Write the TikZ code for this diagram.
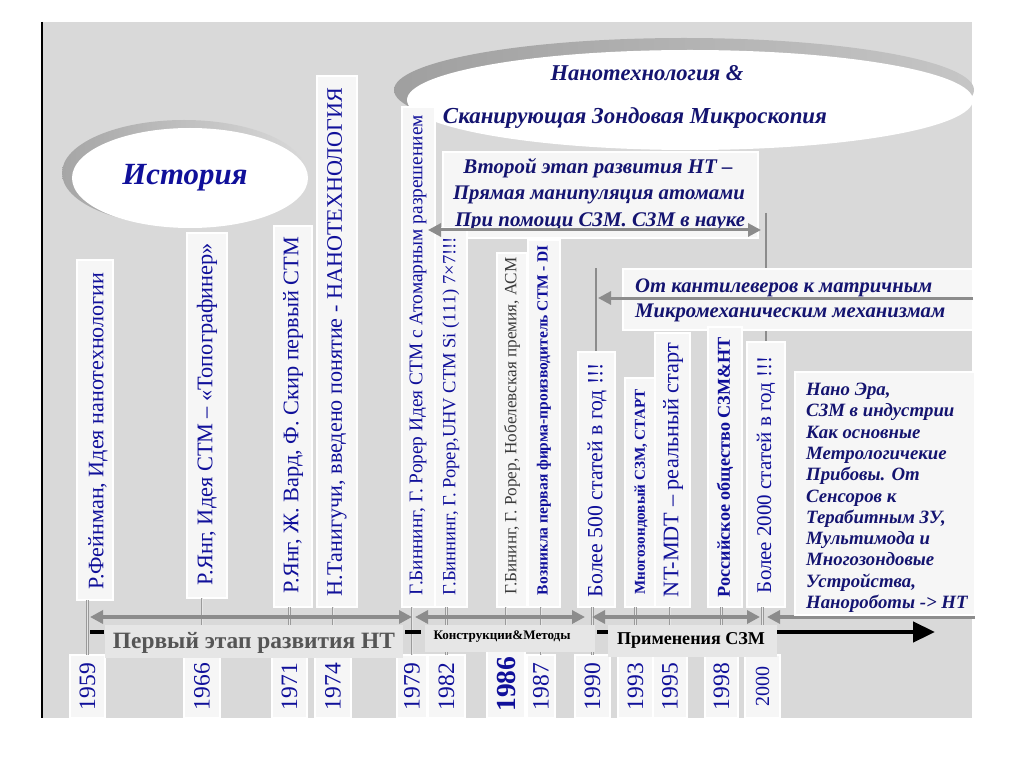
\documentclass[tikz,border=0pt]{standalone}
\usepackage{fontspec}
\setmainfont{Liberation Serif}
\usepackage{graphicx}
\usetikzlibrary{arrows.meta}
\definecolor{panel}{HTML}{D9D9D9}
\definecolor{boxedge}{HTML}{9A9A9A}
\definecolor{boxfill}{HTML}{F6F6F6}
\definecolor{tblue}{HTML}{10109A}
\definecolor{navy}{HTML}{141470}
\definecolor{arrgray}{HTML}{8C8C8C}
\definecolor{lblfill}{HTML}{E6E6E6}
\definecolor{lbltext}{HTML}{555555}
\definecolor{darktxt}{HTML}{3C3C3C}
\newcommand\fitw[2]{\resizebox{#1pt}{!}{#2}}
\begin{document}
\begin{tikzpicture}[x=1pt,y=-1pt,
  lbox/.style={draw=boxedge, line width=0.6pt, double=white, double distance=1.2pt, fill=boxfill, inner sep=0pt, outer sep=0pt},
  vtxt/.style={rotate=90, text=tblue, inner sep=0pt, font=\fontsize{20}{24}\selectfont},
  ybox/.style={lbox, minimum height=63pt},
  ytxt/.style={rotate=90, text=tblue, inner sep=0pt, font=\fontsize{20}{24}\selectfont},
  stem/.style={draw=boxedge, line width=0.6pt, double=white!80!gray, double distance=1pt},
  vline/.style={draw=arrgray, line width=1.6pt},
  tip/.style={-{Triangle[length=13pt,width=13pt]}},
  tl/.style={draw=arrgray, line width=3.5pt, {Triangle[length=13pt,width=13pt]}-{Triangle[length=13pt,width=13pt]}},
  blk/.style={draw=black, line width=4.5pt},
  lbl/.style={fill=lblfill, inner sep=0pt, outer sep=0pt},
  fancy/.style={text=navy, inner sep=0pt, font=\fontsize{20}{24}\selectfont\bfseries\itshape},
  nline/.style={text=navy, inner sep=0pt, anchor=base west, font=\fontsize{18.8}{21}\selectfont\bfseries\itshape},
]
\useasboundingbox (0,0) rectangle (1024,767);
\fill[white] (0,0) rectangle (1024,767);
\fill[panel] (42,22) rectangle (972,718);
\draw[black, line width=1.5pt] (42,22) -- (42,718);

% ellipses
\shade[left color=gray!75, right color=gray!45] (684,90) ellipse [x radius=290pt, y radius=52pt];
\fill[white] (690,100) ellipse [x radius=283pt, y radius=50pt];
\node[fancy] (title1) at (647,73) {\fitw{193}{Нанотехнология \&}};
\node[fancy] (title2) at (635,118) {\fitw{384}{Сканирующая Зондовая Микроскопия}};

\shade[left color=gray!70, right color=gray!30] (184,173) ellipse [x radius=122pt, y radius=53pt];
\fill[white] (190,178) ellipse [x radius=118pt, y radius=50pt];
\node[fancy, text=tblue] (hist) at (185,178) {\fitw{125}{История}};

% boxes behind bars
\node[lbox, minimum width=315pt, minimum height=86pt] (second) at (600.5,195) {};
\node[fancy] (s1) at (598,168) {\fitw{269}{Второй этап развития НТ –}};
\node[fancy] (s2) at (599,195) {\fitw{292}{Прямая манипуляция атомами}};
\node[fancy] (s3) at (600,222) {\fitw{290}{При помощи СЗМ. СЗМ в науке}};
\coordinate (c00top) at (766,213);
\coordinate (c90top) at (596,268);
\draw[vline] (c00top) -- (766,342);
\draw[vline] (c90top) -- (596,352);
\node[lbox, minimum width=350pt, minimum height=61pt] (cant) at (798,299.5) {};
\node[fancy, anchor=west] (k1) at (635,288) {\fitw{297}{От кантилеверов к матричным}};
\node[fancy, anchor=west] (k2) at (635,313) {\fitw{310}{Микромеханическим механизмам}};

% bars
\node[lbox, minimum width=36pt, minimum height=340pt] (b59) at (95,430) {};
\node[lbox, minimum width=40pt, minimum height=365pt] (b66) at (207,415.5) {};
\node[lbox, minimum width=38pt, minimum height=381pt] (b71) at (293,416.5) {};
\node[lbox, minimum width=40pt, minimum height=531pt] (b74) at (337,341.5) {};
\node[lbox, minimum width=33pt, minimum height=500pt] (b79) at (418.5,357) {};
\node[lbox, minimum width=32pt, minimum height=379pt] (b82) at (451,417.5) {};
\node[lbox, minimum width=30pt, minimum height=354pt] (b86) at (512,430) {};
\node[lbox, minimum width=32pt, minimum height=367pt] (b87) at (544,423.5) {};
\node[lbox, minimum width=37pt, minimum height=255pt] (b90) at (596.5,479.5) {};
\node[lbox, minimum width=32pt, minimum height=229pt] (b93) at (641,492.5) {};
\node[lbox, minimum width=35pt, minimum height=274pt] (b95) at (672.5,470) {};
\node[lbox, minimum width=34pt, minimum height=280pt] (b98) at (725,467) {};
\node[lbox, minimum width=38pt, minimum height=265pt] (b00) at (766,474.5) {};

\node[vtxt] (t59) at (98,431) {\fitw{317}{Р.Фейнман, Идея нанотехнологии}};
\node[vtxt] (t66) at (207,414) {\fitw{342}{Р.Янг, Идея СТМ – «Топографинер»}};
\node[vtxt] (t71) at (293,415) {\fitw{356}{Р.Янг, Ж. Вард, Ф. Скир первый СТМ}};
\node[vtxt] (t74) at (337,342) {\fitw{509}{Н.Танигучи, введено понятие - НАНОТЕХНОЛОГИЯ}};
\node[vtxt] (t79) at (418,355) {\fitw{480}{Г.Биннинг, Г. Рорер Идея СТМ с Атомарным разрешением}};
\node[vtxt] (t82) at (451,416) {\fitw{358}{Г.Биннинг, Г. Рорер,UHV СТМ Si (111) 7×7!!!}};
\node[vtxt, text=darktxt] (t86) at (512,426) {\fitw{337}{Г.Бининг, Г. Рорер, Нобелевская премия, АСМ}};
\node[vtxt] (t87) at (544,420) {\fitw{350}{\bfseries Возникла первая фирма-производитель СТМ - DI}};
\node[vtxt] (t90) at (597,480) {\fitw{234}{Более 500 статей в год !!!}};
\node[vtxt] (t93) at (641,492) {\fitw{205}{\bfseries Многозондовый СЗМ, СТАРТ}};
\node[vtxt] (t95) at (673,470) {\fitw{254}{NT-MDT – реальный старт}};
\node[vtxt] (t98) at (725,467) {\fitw{260}{\bfseries Российское общество СЗМ\&НТ}};
\node[vtxt] (t00) at (766,475) {\fitw{236}{Более 2000 статей в год !!!}};

% year boxes
\node[ybox, minimum width=35pt] (y59) at (87.5,686.5) {};
\node[ybox, minimum width=36pt] (y66) at (202,686.5) {};
\node[ybox, minimum width=35pt] (y71) at (289.5,686.5) {};
\node[ybox, minimum width=36pt] (y74) at (333,686.5) {};
\node[ybox, minimum width=30pt] (y79) at (412,686.5) {};
\node[ybox, minimum width=37pt] (y82) at (446.5,686.5) {};
\node[ybox, minimum width=38pt, minimum height=68pt] (y86) at (506,684) {};
\node[ybox, minimum width=28pt] (y87) at (541,686.5) {};
\node[ybox, minimum width=35pt] (y90) at (592.5,686.5) {};
\node[ybox, minimum width=35pt] (y93) at (635.5,686.5) {};
\node[ybox, minimum width=34pt] (y95) at (670,686.5) {};
\node[ybox, minimum width=33pt] (y98) at (721.5,686.5) {};
\node[ybox, minimum width=35pt] (y00) at (762.5,686.5) {};

% stems
\foreach \n in {59,66,71,74,79,82,86,87,90,93,95,98,00}
  \draw[stem] (y\n.north) -- (y\n.north |- b\n.south);

% timeline
\coordinate (a1l) at (90,617);  \coordinate (a1r) at (412,617);
\coordinate (a2l) at (415,617); \coordinate (a2r) at (585,617);
\coordinate (a3l) at (592,617); \coordinate (a3r) at (760,617);
\coordinate (a4l) at (767,617); \coordinate (a4r) at (975,617);
\draw[tl] (a1l) -- (a1r);
\draw[tl] (a2l) -- (a2r);
\draw[tl] (a3l) -- (a3r);
\draw[draw=arrgray, line width=3.5pt, {Triangle[length=13pt,width=13pt]}-] (a4l) -- (a4r);

\coordinate (d1l) at (90,632);  \coordinate (d1r) at (104,632);
\coordinate (d2l) at (405,632); \coordinate (d2r) at (421,632);
\coordinate (d3l) at (597,632); \coordinate (d3r) at (609,632);
\coordinate (bkl) at (777,632); \coordinate (bkr) at (935,632);
\draw[blk] (d1l) -- (d1r);
\draw[blk] (d2l) -- (d2r);
\draw[blk] (d3l) -- (d3r);
\draw[blk, -{Triangle[length=22pt,width=20pt]}] (bkl) -- (bkr);

\node[lbl, minimum width=298pt, minimum height=33pt] (p1) at (254,641.5) {};
\node[text=lbltext, inner sep=0pt, font=\bfseries] (p1t) at (254,643) {\fitw{282}{Первый этап развития НТ}};
\node[lbl, minimum width=170pt, minimum height=27pt] (p2) at (510,638.5) {};
\node[text=black, inner sep=0pt, font=\bfseries] (p2t) at (502,637) {\fitw{137}{Конструкции\&Методы}};
\node[lbl, minimum width=169pt, minimum height=32pt] (p3) at (692.5,641) {};
\node[text=black, inner sep=0pt, font=\bfseries] (p3t) at (691,640) {\fitw{148}{Применения СЗМ}};

% year texts
\node[ytxt] (n59) at (y59) {\fitw{47}{1959}};
\node[ytxt] (n66) at (y66) {\fitw{47}{1966}};
\node[ytxt] (n71) at (y71) {\fitw{47}{1971}};
\node[ytxt] (n74) at (y74) {\fitw{47}{1974}};
\node[ytxt] (n79) at (y79) {\fitw{47}{1979}};
\node[ytxt] (n82) at (y82) {\fitw{47}{1982}};
\node[ytxt] (n86) at (y86) {\fitw{55}{\bfseries 1986}};
\node[ytxt] (n87) at (y87) {\fitw{47}{1987}};
\node[ytxt] (n90) at (y90) {\fitw{47}{1990}};
\node[ytxt] (n93) at (y93) {\fitw{47}{1993}};
\node[ytxt] (n95) at (y95) {\fitw{47}{1995}};
\node[ytxt] (n98) at (y98) {\fitw{47}{1998}};
\node[ytxt] (n00) at (y00) {\fitw{40}{2000}};

% arrows over boxes
\coordinate (s2l) at (428,230); \coordinate (s2r) at (761,230);
\draw[tl, line width=3pt] (s2l) -- (s2r);
\coordinate (k0r) at (973,298); \coordinate (k0l) at (598,298);
\draw[draw=arrgray, line width=3pt, tip] (k0r) -- (k0l);

% right box
\node[lbox, minimum width=180pt, minimum height=243pt] (nano) at (885,493.5) {};
\node[nline] (r1) at (806,395.5) {Нано Эра,};
\node[nline] (r2) at (806,416.8) {СЗМ в индустрии};
\node[nline] (r3) at (806,438.1) {Как основные};
\node[nline] (r4) at (806,459.4) {Метрологичекие};
\node[nline] (r5) at (806,480.7) {Прибовы. От};
\node[nline] (r6) at (806,502) {Сенсоров к};
\node[nline] (r7) at (806,523.3) {Терабитным ЗУ,};
\node[nline] (r8) at (806,544.6) {Мультимода и};
\node[nline] (r9) at (806,565.9) {Многозондовые};
\node[nline] (r10) at (806,587.2) {Устройства,};
\node[nline] (r11) at (806,608.5) {Нанороботы -> НТ};
\end{tikzpicture}
\end{document}
